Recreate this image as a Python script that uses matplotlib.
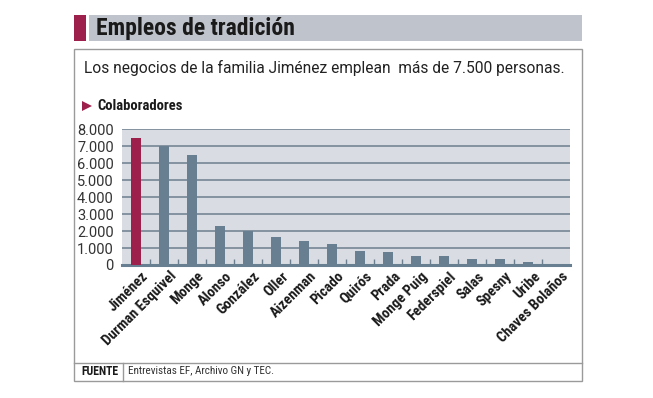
import matplotlib
matplotlib.use("Agg")
import matplotlib.pyplot as plt
import matplotlib.transforms as mtransforms
from matplotlib.patches import Rectangle
from matplotlib.lines import Line2D

# datos
familias = ["Jiménez", "Durman Esquivel", "Monge", "Alonso", "González", "Oller",
            "Aizenman", "Picado", "Quirós", "Prada", "Monge Puig", "Federspiel",
            "Salas", "Spesny", "Uribe", "Chaves Bolaños"]
colaboradores = [7500, 7000, 6500, 2300, 2000, 1650, 1400, 1250,
                 850, 750, 520, 520, 380, 350, 150, 80]
yticks = [0, 1000, 2000, 3000, 4000, 5000, 6000, 7000, 8000]
ytick_labels = ["0", "1.000", "2.000", "3.000", "4.000", "5.000", "6.000", "7.000", "8.000"]

titulo = "Empleos de tradición"
subtitulo = "Los negocios de la familia Jiménez emplean  más de 7.500 personas."
fuente = "Entrevistas EF, Archivo GN y TEC."

CRIMSON = "#9c1f4c"
SLATE = "#687f92"
BG = "#d9dde3"
TITLE_BG = "#bfc4cc"
BORDER = "#9a9a9a"
COND = ["Roboto Condensed", "DejaVu Sans"]
REG = ["Roboto", "DejaVu Sans"]

W, H = 653, 398
fig = plt.figure(figsize=(W / 100, H / 100), dpi=100)


def fx(x):
    return x / W


def fy(y):
    return 1 - y / H


# title bar
fig.add_artist(Rectangle((fx(74), fy(41)), fx(12), 26 / H, transform=fig.transFigure,
                         facecolor=CRIMSON, edgecolor="none"))
fig.add_artist(Rectangle((fx(89), fy(41)), fx(582 - 89), 26 / H, transform=fig.transFigure,
                         facecolor=TITLE_BG, edgecolor="none"))
fig.text(fx(96), fy(28.5), titulo, family=COND, weight="bold", fontsize=17,
         color="#1a1a1a", va="center", ha="left")

# box
fig.add_artist(Rectangle((fx(74), fy(381)), fx(582 - 74), (381 - 48.5) / H,
                         transform=fig.transFigure, facecolor="none",
                         edgecolor=BORDER, lw=1))
fig.add_artist(Line2D([fx(74), fx(582)], [fy(362.5), fy(362.5)],
                      transform=fig.transFigure, color=BORDER, lw=1))
fig.add_artist(Line2D([fx(122.5), fx(122.5)], [fy(362.5), fy(381)],
                      transform=fig.transFigure, color=BORDER, lw=1))

fig.text(fx(84), fy(68), subtitulo, family=REG, fontsize=11.2, color="#222222",
         va="center", ha="left")

# Colaboradores header
fig.add_artist(Line2D([fx(87)], [fy(105.5)], transform=fig.transFigure, marker=">",
                      markersize=6.5, color=CRIMSON, markeredgewidth=0))
fig.text(fx(97), fy(105.5), "Colaboradores", family=COND, weight="bold", fontsize=10.5,
         color="#1a1a1a", va="center", ha="left")

# footer
fig.text(fx(81), fy(371.5), "FUENTE", family=COND, weight="bold", fontsize=8.5,
         color="#1a1a1a", va="center", ha="left")
fig.text(fx(128), fy(371.5), fuente, family=COND, fontsize=8,
         color="#333333", va="center", ha="left")

# chart
ax = fig.add_axes([fx(122), fy(265), fx(570 - 122), (265 - 129.3) / H])
ax.set_facecolor(BG)
x = list(range(len(familias)))
colors = [CRIMSON] + [SLATE] * (len(familias) - 1)
ax.bar(x, colaboradores, width=0.38, color=colors, zorder=3)
ax.set_xlim(-0.5, len(familias) - 0.5)
ax.set_ylim(0, 8000)
for v in yticks[1:]:
    ax.axhline(v, color="#6d7d8c", lw=1.1, zorder=1)
ax.axhline(0, color=SLATE, lw=2.2, zorder=2, clip_on=False)

ax.set_yticks(yticks)
ax.set_yticklabels(ytick_labels, family=REG, fontsize=10.5, color="#333333")
ax.tick_params(axis="y", length=0, pad=6)

ax.set_xticks(x)
ax.set_xticklabels(familias, rotation=45, ha="right", va="top",
                   rotation_mode="anchor", family=COND, weight="bold",
                   fontsize=10.5, color="#1a1a1a")
ax.tick_params(axis="x", which="major", length=0, pad=3)
ax.set_xticks([i + 0.5 for i in x[:-1]], minor=True)
ax.tick_params(axis="x", which="minor", direction="in", length=4.5, width=1,
               color="#6d7f8f")
for s in ax.spines.values():
    s.set_visible(False)

# shift labels right a bit
offset = mtransforms.ScaledTranslation(5 / 100, 0, fig.dpi_scale_trans)
for lab in ax.get_xticklabels():
    lab.set_transform(lab.get_transform() + offset)

fig.savefig("out.png", dpi=100)
